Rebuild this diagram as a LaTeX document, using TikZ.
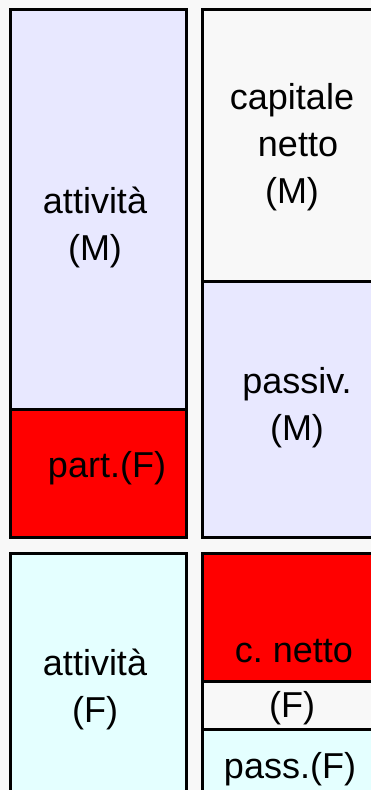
\documentclass[tikz,border=0pt]{standalone}
\usepackage{fontspec}
\setmainfont{Liberation Sans}
\usetikzlibrary{positioning}

\definecolor{lavender}{RGB}{232,232,255}
\definecolor{paleaqua}{RGB}{228,255,255}
\definecolor{bggray}{RGB}{248,248,248}

\tikzset{
  box/.style={draw=black, line width=3pt},
  lbl/.style={font=\fontsize{36}{47}\selectfont, align=center,
    inner sep=0pt, anchor=base}
}

\begin{document}
\begin{tikzpicture}[x=1pt,y=-1pt]
      \useasboundingbox (0,0) rectangle (371,790);
      \clip (0,0) rectangle (371,790);
      \fill[bggray] (0,0) rectangle (371,790);
      % parent company
      \filldraw[box,fill=lavender] (10,9) rectangle (186,409);
      \filldraw[box,fill=red] (10,409) rectangle (186,537);
      \filldraw[box,fill=bggray] (202,9) rectangle (400,281);
      \filldraw[box,fill=lavender] (202,281) rectangle (400,537);
      % subsidiary
      \filldraw[box,fill=paleaqua] (10,553) rectangle (186,830);
      \filldraw[box,fill=red] (202,553) rectangle (400,681);
      \filldraw[box,fill=bggray] (202,681) rectangle (400,729);
      \filldraw[box,fill=paleaqua] (202,729) rectangle (400,830);
      % base = last line
      \node[lbl] (attm) at (95,260) {attivit\`a\\(M)};
      \node[lbl] (capm) at (292,203) {capitale\\\hspace{12pt}netto\\(M)};
      \node[lbl] (passm) at (297,440) {passiv.\\(M)};
      \node[lbl] (partf) at (107,477) {part.(F)};
      \node[lbl] (attf) at (95,722) {attivit\`a\\(F)};
      \node[lbl] (cnetto) at (294,662) {c.\ netto};
      \node[lbl] (cnettof) at (292,717) {(F)};
      \node[lbl] (passf) at (290,778) {pass.(F)};
    \end{tikzpicture}
\end{document}
